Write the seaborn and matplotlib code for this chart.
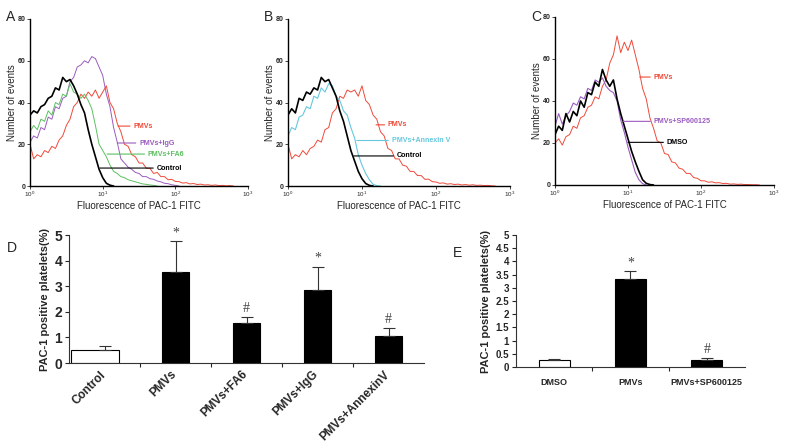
import numpy as np
import matplotlib
matplotlib.use("Agg")
import matplotlib.pyplot as plt
import matplotlib.transforms as mtransforms
from matplotlib.ticker import FormatStrFormatter
import seaborn as sns

# --- histogram verileri (kanal aralığı 0.05 dekad, 10^0'dan başlar) ---
ADIM = 0.05

a_pmvs = [20, 13, 15, 14, 17, 16, 19, 18, 22, 24, 29, 32, 38, 40, 44, 42, 45, 43, 46, 42,
          45, 48, 40, 37, 30, 26, 20, 19, 15, 14, 11, 11, 8.5, 8.5, 6, 6.5, 4.5, 4.5, 3, 3.2,
          2.2, 2.1, 1.4, 1.6, 1, 1.2, 0.7, 0.9, 0.5, 0.6, 0.3, 0.5, 0.2, 0.3, 0.1, 0.2, 0]
a_igg = [21, 24, 23, 28, 27, 33, 32, 38, 37, 42, 43, 50, 52, 57, 58, 60, 59, 62, 61, 57,
         53, 44, 38, 28, 21, 13, 11, 9, 8, 6.5, 6, 4.5, 4.5, 3.5, 3.2, 2.4, 2, 1.3, 1.1, 0.6,
         0.3, 0]
a_fa6 = [26, 29, 27, 32, 31, 36, 34, 40, 39, 44, 43, 49, 45, 44, 42, 44, 41, 37, 29, 20,
         17, 14, 10, 7, 6, 4.5, 4, 3, 2.5, 2, 1.5, 1, 0.8, 0.5, 0.3, 0]
a_control = [34, 36, 35, 38, 39, 42, 43, 47, 46, 52, 50, 51, 48, 44, 39, 35, 27, 20, 14, 8,
             4, 1.3, 0.4, 0]

b_pmvs = [20, 13, 15, 14, 17, 15, 18, 19, 22, 21, 27, 28, 35, 37, 43, 42, 46, 45, 46, 43,
          48, 41, 39, 34, 32, 26, 24, 18, 17, 13, 13, 10, 9.5, 7, 7, 5, 5, 3.2, 3.3, 2.1,
          1.9, 1.3, 1.5, 0.9, 1.1, 0.7, 0.9, 0.5, 0.7, 0.4, 0.6, 0.3, 0.4, 0.2, 0.3, 0.1, 0]
b_annexin = [24, 28, 27, 33, 34, 38, 37, 43, 42, 47, 45, 49, 48, 43, 41, 36, 34, 28, 23, 15,
             10, 6, 3, 0.8, 0.2, 0]
b_control = [34, 37, 35, 42, 41, 45, 44, 47, 46, 52, 50, 51, 47, 43, 36, 31, 24, 17, 12, 7,
             3.5, 1.2, 0.3, 0]

c_pmvs = [20, 22, 19, 23, 24, 28, 27, 32, 33, 37, 38, 42, 41, 47, 50, 58, 62, 71, 63, 68,
          64, 69, 62, 55, 46, 41, 32, 27, 21, 20, 15, 14.5, 11, 10.5, 8, 7.5, 5.5, 5.5, 3.5,
          3.2, 2, 2, 1.3, 1.5, 1, 1.1, 0.7, 0.8, 0.4, 0.5, 0.3, 0.4, 0.2, 0.2, 0.1, 0.1, 0]
c_sp = [28, 34, 29, 33, 35, 39, 38, 42, 41, 46, 45, 50, 49, 51, 47, 45, 44, 40, 31, 25,
        18, 12, 6, 2.5, 0.6, 0]
c_dmso = [24, 28, 26, 34, 30, 35, 33, 40, 37, 44, 43, 49, 47, 55, 50, 47, 50, 41, 34, 28,
          22, 16, 11, 6.5, 2.5, 0.8, 0.2, 0]

# --- bar grafik verileri ---
d_gruplar = ["Control", "PMVs", "PMVs+FA6", "PMVs+IgG", "PMVs+AnnexinV"]
d_ort = [0.52, 3.57, 1.57, 2.85, 1.05]
d_sd = [0.16, 1.18, 0.23, 0.92, 0.33]
d_isaret = ["", "*", "#", "*", "#"]

e_gruplar = ["DMSO", "PMVs", "PMVs+SP600125"]
e_ort = [0.28, 3.35, 0.28]
e_sd = [0.02, 0.27, 0.07]
e_isaret = ["", "*", "#"]

KIRMIZI = "#ee4a3a"
MOR = "#9a5cbf"
YESIL = "#5cc060"
MAVI = "#66c8de"

sns.set_style("ticks")
plt.rcParams["font.family"] = ["Liberation Sans", "DejaVu Sans"]
plt.rcParams["mathtext.fontset"] = "custom"
plt.rcParams["mathtext.rm"] = "Liberation Sans"

fig = plt.figure(figsize=(7.86, 4.48), dpi=100)


def kanal(degerler):
    return 10 ** (np.arange(len(degerler)) * ADIM)


def HistogramCiz(konum, egriler, etiketler, harf, hx):
    ax = fig.add_axes(konum)
    for degerler, renk, kalinlik in egriler:
        sns.lineplot(x=kanal(degerler), y=degerler, color=renk, lw=kalinlik,
                     estimator=None, ax=ax)
    ax.set_xscale("log")
    ax.set_xlim(1, 1000)
    ax.set_ylim(0, 80)
    ax.set_yticks([0, 20, 40, 60, 80])
    ax.set_yticklabels(["0", "20", "40", "60", "80"], fontsize=5, fontweight="bold")
    ax.set_xticks([1, 10, 100, 1000])
    ax.set_xticklabels([r"$10^{0}$", r"$10^{1}$", r"$10^{2}$", r"$10^{3}$"], fontsize=4.5)
    ax.minorticks_off()
    ax.tick_params(length=2, width=0.6, pad=1)
    for s in ["top", "right"]:
        ax.spines[s].set_visible(False)
    for s in ["left", "bottom"]:
        ax.spines[s].set_linewidth(1.0)
        ax.spines[s].set_color("black")
    ax.set_xlabel("Fluorescence of PAC-1 FITC", fontsize=7, labelpad=1)
    ax.set_ylabel("Number of events", fontsize=7, labelpad=1)
    for metin, renk, y, x0, x1 in etiketler:
        ax.annotate(metin, xy=(10 ** x0, y), xytext=(10 ** x1, y), color=renk,
                    fontsize=5.1, fontweight="bold", va="center", ha="left",
                    arrowprops=dict(arrowstyle="-", color=renk, lw=0.8,
                                    shrinkA=0, shrinkB=0))
    fig.text(hx, 0.977, harf, fontsize=10, va="top")
    return ax


HistogramCiz([0.0382, 0.5848, 0.2774, 0.3728],
             [(a_pmvs, KIRMIZI, 0.7), (a_igg, MOR, 0.7), (a_fa6, YESIL, 0.7),
              (a_control, "black", 1.2)],
             [("PMVs", KIRMIZI, 28.7, 1.21, 1.42), ("PMVs+IgG", MOR, 20.6, 1.20, 1.50),
              ("PMVs+FA6", YESIL, 15.3, 1.06, 1.62), ("Control", "black", 8.6, 0.96, 1.74)],
             "A", 0.007)
HistogramCiz([0.3664, 0.5848, 0.2824, 0.3728],
             [(b_pmvs, KIRMIZI, 0.7), (b_annexin, MAVI, 0.8), (b_control, "black", 1.2)],
             [("PMVs", KIRMIZI, 29.3, 1.19, 1.35), ("PMVs+Annexin V", MAVI, 21.8, 0.93, 1.40),
              ("Control", "black", 14.4, 0.89, 1.47)],
             "B", 0.336)
HistogramCiz([0.7061, 0.5871, 0.2786, 0.375],
             [(c_pmvs, KIRMIZI, 0.7), (c_sp, MOR, 0.8), (c_dmso, "black", 1.2)],
             [("PMVs", KIRMIZI, 51.4, 1.16, 1.35), ("PMVs+SP600125", MOR, 30.3, 0.93, 1.35),
              ("DMSO", "black", 20.3, 1.00, 1.53)],
             "C", 0.676)


def BarCiz(konum, gruplar, ort, sd, isaret, renkler, genislik, etiket_boyu, donme, pad):
    ax = fig.add_axes(konum)
    sns.barplot(x=gruplar, y=ort, hue=gruplar, palette=renkler, legend=False,
                edgecolor="black", linewidth=0.8, width=genislik, ax=ax)
    n = len(gruplar)
    ax.errorbar(range(n), ort, yerr=[np.zeros(n), sd], fmt="none", ecolor="#333333",
                elinewidth=0.8, capsize=4.5, capthick=0.8)
    for i in range(n):
        if isaret[i]:
            ax.text(i, ort[i] + sd[i] + 0.33, isaret[i], ha="center", va="center",
                    fontsize=10, color="#444444", family="Liberation Serif")
    ax.set_xlim(-0.5, n - 0.5)
    ax.set_ylim(0, 5)
    ax.set_xticks(range(n))
    ax.set_xticks([k + 0.5 for k in range(n - 1)], minor=True)
    ax.tick_params(axis="x", which="major", length=0, pad=pad)
    ax.tick_params(axis="x", which="minor", length=3, width=0.8)
    ax.tick_params(axis="y", length=3, width=0.8, pad=2)
    if donme:
        ax.set_xticklabels(gruplar, rotation=45, ha="right", rotation_mode="anchor",
                           fontsize=etiket_boyu, fontweight="bold")
        kaydir = mtransforms.ScaledTranslation(-5 / 100, 0, fig.dpi_scale_trans)
        for t in ax.get_xticklabels():
            t.set_transform(t.get_transform() + kaydir)
    else:
        ax.set_xticklabels(gruplar, fontsize=etiket_boyu, fontweight="bold")
    for s in ["top", "right"]:
        ax.spines[s].set_visible(False)
    for s in ["left", "bottom"]:
        ax.spines[s].set_linewidth(0.8)
        ax.spines[s].set_color("#333333")
    ax.set_ylabel("PAC-1 positive platelets(%)", fontsize=8, fontweight="bold", labelpad=3)
    return ax


ax_d = BarCiz([0.0878, 0.1897, 0.4517, 0.2857], d_gruplar, d_ort, d_sd, d_isaret,
              ["white", "black", "black", "black", "black"], 0.39, 8.5, True, 4)
ax_d.set_yticks([0, 1, 2, 3, 4, 5])
ax_d.set_yticklabels(["0", "1", "2", "3", "4", "5"], fontsize=10, fontweight="bold")
# control bar is drawn wider and shifted left in the original
ax_d.patches[0].set_x(-0.47)
ax_d.patches[0].set_width(0.67)
fig.text(0.009, 0.462, "D", fontsize=10, va="top")

ax_e = BarCiz([0.6565, 0.1808, 0.2913, 0.2946], e_gruplar, e_ort, e_sd, e_isaret,
              ["white", "black", "black"], 0.41, 6.5, False, 8)
ax_e.set_yticks(np.arange(0, 5.01, 0.5))
ax_e.yaxis.set_major_formatter(FormatStrFormatter("%g"))
for t in ax_e.get_yticklabels():
    t.set_fontsize(7)
    t.set_fontweight("bold")
fig.text(0.576, 0.452, "E", fontsize=10, va="top")

fig.savefig("out.png", dpi=100)
